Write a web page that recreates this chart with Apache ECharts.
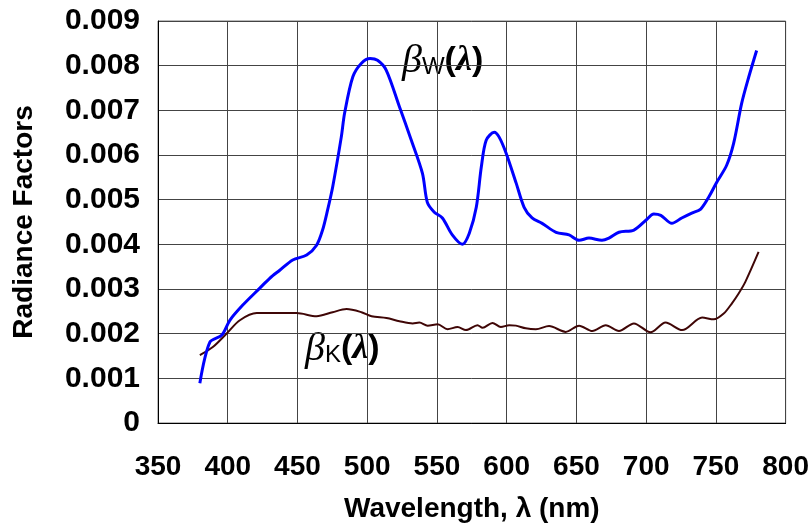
<!DOCTYPE html>
<html>
<head>
<meta charset="utf-8">
<script src="https://cdn.jsdelivr.net/npm/echarts@6/dist/echarts.min.js"></script>
<style>
  html, body { margin: 0; padding: 0; background: #fff; }
  #main { width: 812px; height: 529px; }
</style>
</head>
<body>
<div id="main"></div>
<script>
// beta_W (white sample)
const wlW = [380, 387.2, 395.8, 401.5, 410.8, 423, 430.1, 437.3, 446.6, 456.6, 463.7, 468, 471.6, 475.2,
  481.4, 483.8, 489.7, 495.7, 502.1, 507.4, 513.6, 523.1, 531.3, 539.6, 543.1, 548.1, 553.9,
  561, 568.2, 573.2, 578.2, 581.8, 585.3, 591.1, 594.6, 599.6, 606.8, 612.5, 618.2, 625.4, 635.4,
  644.7, 651.9, 659, 668.3, 673.3, 680.5, 691.2, 699.8, 705.5, 710.5, 718.4, 725.5, 732.7, 739.1,
  744.9, 750.6, 757.7, 762.7, 768.5, 773.5, 779.2]
const betaW = [0.00089, 0.00181, 0.00197, 0.0023, 0.00264, 0.00302, 0.00324, 0.00342, 0.00365, 0.00376, 0.00398, 0.00432, 0.00477, 0.00528,
  0.0064, 0.00694, 0.00775, 0.00805, 0.00816, 0.00812, 0.0079, 0.00708, 0.00636, 0.00559, 0.00494, 0.00472, 0.00459,
  0.00421, 0.004, 0.00425, 0.00483, 0.00573, 0.00633, 0.00651, 0.0064, 0.00604, 0.00537, 0.00483, 0.00459, 0.00447, 0.00427,
  0.00421, 0.00409, 0.00414, 0.00409, 0.00414, 0.00427, 0.00432, 0.00454, 0.00468, 0.00465, 0.00447, 0.00459, 0.0047, 0.00479,
  0.00506, 0.00539, 0.00577, 0.00626, 0.00716, 0.00774, 0.00834]

// beta_K (black sample)
const wlK = [380, 389.3, 399.4, 408.7, 420.8, 437.3, 449.4, 463.7, 475.2, 485.2, 495.9, 503.1, 513.8, 523.1,
  532.6, 537.4, 543.3, 550.5, 557.6, 564.8, 570.8, 579.1, 582.7, 589.8, 595.8, 601.8, 606.6, 613.7,
  620.9, 630.4, 642.3, 651.9, 661.4, 671, 680.5, 691.2, 703.1, 713.9, 725.8, 740.1, 748.4, 755.6,
  761.5, 766.3, 771.1, 780.6]
const betaK = [0.00152, 0.0017, 0.00201, 0.0023, 0.00246, 0.00246, 0.00246, 0.00239, 0.00248, 0.00255, 0.00248, 0.00239, 0.00235, 0.00228,
  0.00223, 0.00225, 0.00218, 0.00221, 0.0021, 0.00215, 0.00208, 0.00219, 0.00213, 0.00224, 0.00215, 0.00219, 0.00218, 0.00212,
  0.0021, 0.00217, 0.00204, 0.00218, 0.00206, 0.00219, 0.00206, 0.00223, 0.00203, 0.00225, 0.00208, 0.00236, 0.00232, 0.00245,
  0.00268, 0.0029, 0.00316, 0.00383]

const yTickLabels = ['0', '0.001', '0.002', '0.003', '0.004', '0.005', '0.006', '0.007', '0.008', '0.009']

const pairs = (xs, ys) => xs.map((x, i) => [x, ys[i]])

const labelFont = {
  color: '#000',
  fontFamily: 'Liberation Sans',
  fontWeight: 'bold',
  fontSize: 28
}

const greekLabel = (x, y, sub) => ({
  type: 'group',
  left: x,
  top: y,
  z: 10,
  children: [
    {
      type: 'rect',
      shape: { x: 0, y: 0, width: 88, height: 50 },
      style: { fill: '#fff' }
    },
    {
      type: 'text',
      x: 2,
      y: 4,
      style: {
        text: '{b|β}{s|' + sub + '}{p|(}{l|λ}{p|)}',
        rich: {
          b: { fontFamily: 'Liberation Serif', fontStyle: 'italic', fontSize: 40, color: '#000' },
          s: { fontFamily: 'Liberation Sans', fontSize: 24, color: '#000', padding: [12, 0, 0, 0] },
          p: { fontFamily: 'Liberation Sans', fontWeight: 'bold', fontSize: 34, color: '#000' },
          l: { fontFamily: 'Liberation Serif', fontStyle: 'italic', fontWeight: 'bold', fontSize: 36, color: '#000' }
        }
      }
    }
  ]
})

const chart = echarts.init(document.getElementById('main'))
const option = {
  animation: false,
  backgroundColor: '#fff',
  grid: {
    left: 158,
    right: 25,
    top: 21,
    bottom: 106,
    show: true,
    borderColor: '#777',
    borderWidth: 1
  },
  xAxis: {
    type: 'value',
    min: 350,
    max: 800,
    interval: 50,
    name: 'Wavelength, λ (nm)',
    nameLocation: 'middle',
    nameGap: 72,
    nameTextStyle: labelFont,
    axisLine: { lineStyle: { color: '#000', width: 1 } },
    axisTick: { show: false },
    axisLabel: Object.assign({ margin: 30 }, labelFont),
    splitLine: { lineStyle: { color: '#444', width: 1 } }
  },
  yAxis: {
    type: 'value',
    min: 0,
    max: 0.009,
    interval: 0.001,
    name: 'Radiance Factors',
    nameLocation: 'middle',
    nameGap: 120,
    nameTextStyle: labelFont,
    axisLine: { show: true, lineStyle: { color: '#000', width: 1 } },
    axisTick: { show: false },
    axisLabel: Object.assign({
      margin: 18,
      formatter: (v) => yTickLabels[Math.round(v * 1000)]
    }, labelFont, { fontSize: 30 }),
    splitLine: { lineStyle: { color: '#444', width: 1 } }
  },
  series: [
    {
      name: 'betaK',
      type: 'line',
      smooth: 0.3,
      showSymbol: false,
      lineStyle: { color: '#3f0606', width: 2 },
      data: pairs(wlK, betaK)
    },
    {
      name: 'betaW',
      type: 'line',
      smooth: 0.3,
      showSymbol: false,
      lineStyle: { color: '#0000ff', width: 3 },
      data: pairs(wlW, betaW)
    }
  ],
  graphic: [
    greekLabel(400, 37, 'W'),
    greekLabel(303, 325, 'K')
  ]
}
option && chart.setOption(option)
</script>
</body>
</html>
